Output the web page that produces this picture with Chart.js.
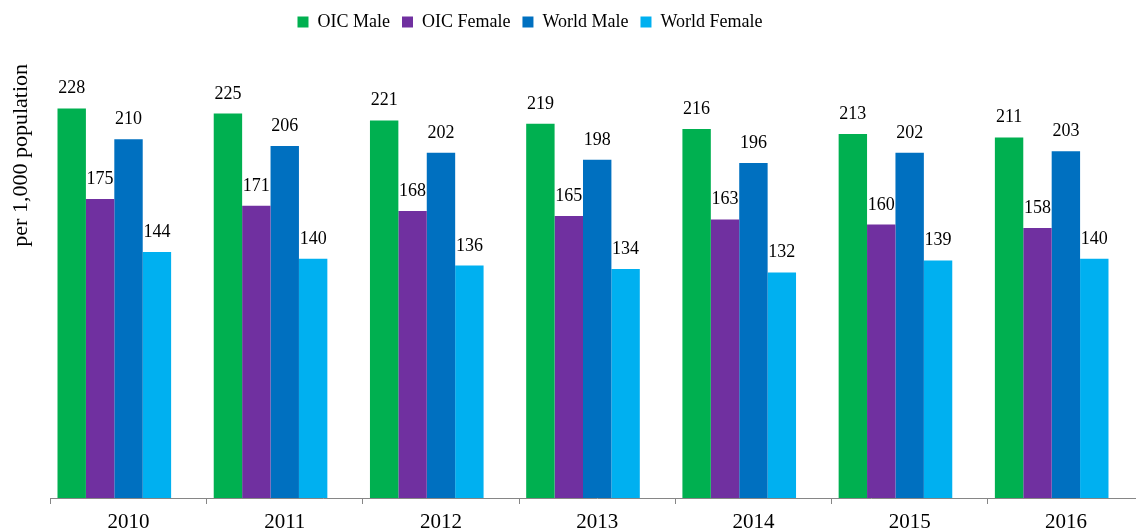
<!DOCTYPE html>
<html>
<head>
<meta charset="utf-8">
<script src="https://cdn.jsdelivr.net/npm/chart.js@4/dist/chart.umd.min.js"></script>
<style>
  html, body { margin: 0; padding: 0; background: #fff; overflow: hidden; }
  .chart { position: relative; width: 1144px; height: 532px; }
</style>
</head>
<body>
<div class="chart"><canvas id="chart"></canvas></div>
<script>
const years = ["2010", "2011", "2012", "2013", "2014", "2015", "2016"];
const oicMale = [228, 225, 221, 219, 216, 213, 211];
const oicFemale = [175, 171, 168, 165, 163, 160, 158];
const worldMale = [210, 206, 202, 198, 196, 202, 203];
const worldFemale = [144, 140, 136, 134, 132, 139, 140];
// empty fifth series, keeps the Excel-like left aligned groups
const spacer = [null, null, null, null, null, null, null];

const serif = "'Liberation Serif', 'Times New Roman', serif";

// draws the value above every bar
const valueLabels = {
  id: "valueLabels",
  afterDatasetsDraw(chart) {
    const ctx = chart.ctx;
    ctx.save();
    ctx.font = "18px " + serif;
    ctx.fillStyle = "#000";
    ctx.textAlign = "center";
    ctx.textBaseline = "alphabetic";
    chart.data.datasets.forEach((ds, i) => {
      const meta = chart.getDatasetMeta(i);
      if (meta.hidden) return;
      meta.data.forEach((bar, j) => {
        const v = ds.data[j];
        if (v === null || v === undefined) return;
        ctx.fillText(String(v), bar.x, bar.y - 15);
      });
    });
    ctx.restore();
  }
};

// legend sits higher and a bit left of centre in the original
const legendShift = {
  id: "legendShift",
  afterLayout(chart) {
    const lg = chart.legend;
    lg.left -= 46;
    lg.right -= 46;
    lg.top -= 23;
    lg.bottom -= 23;
  }
};

new Chart(document.getElementById("chart"), {
  type: "bar",
  data: {
    labels: years,
    datasets: [
      { label: "OIC Male", data: oicMale, backgroundColor: "#00B050" },
      { label: "OIC Female", data: oicFemale, backgroundColor: "#7030A0" },
      { label: "World Male", data: worldMale, backgroundColor: "#0070C0" },
      { label: "World Female", data: worldFemale, backgroundColor: "#00B0F0" },
      { label: "", data: spacer, backgroundColor: "rgba(0,0,0,0)" }
    ]
  },
  options: {
    responsive: true,
    maintainAspectRatio: false,
    animation: false,
    layout: { padding: { left: 8, right: 0, top: 24, bottom: -9 } },
    datasets: {
      bar: { categoryPercentage: 5 / 5.5, barPercentage: 1, borderWidth: 0 }
    },
    plugins: {
      tooltip: { enabled: false },
      legend: {
        position: "top",
        labels: {
          font: { family: serif, size: 18 },
          color: "#000",
          boxWidth: 11,
          boxHeight: 11,
          padding: 12,
          filter: item => item.text !== ""
        }
      }
    },
    scales: {
      x: {
        grid: {
          display: true,
          offset: true,
          drawOnChartArea: false,
          drawTicks: true,
          tickLength: 6,
          color: "#868686"
        },
        border: { display: true, color: "#868686", width: 1 },
        ticks: {
          font: { family: serif, size: 21, lineHeight: 1 },
          color: "#000",
          padding: 8,
          maxRotation: 0
        }
      },
      y: {
        min: 0,
        max: 254,
        ticks: { display: false },
        grid: { display: false },
        border: { display: false },
        title: {
          display: true,
          text: "per 1,000 population",
          align: "end",
          color: "#000",
          font: { family: serif, size: 22 },
          padding: { top: 0, bottom: 8 }
        }
      }
    }
  },
  plugins: [valueLabels, legendShift]
});
</script>
</body>
</html>
